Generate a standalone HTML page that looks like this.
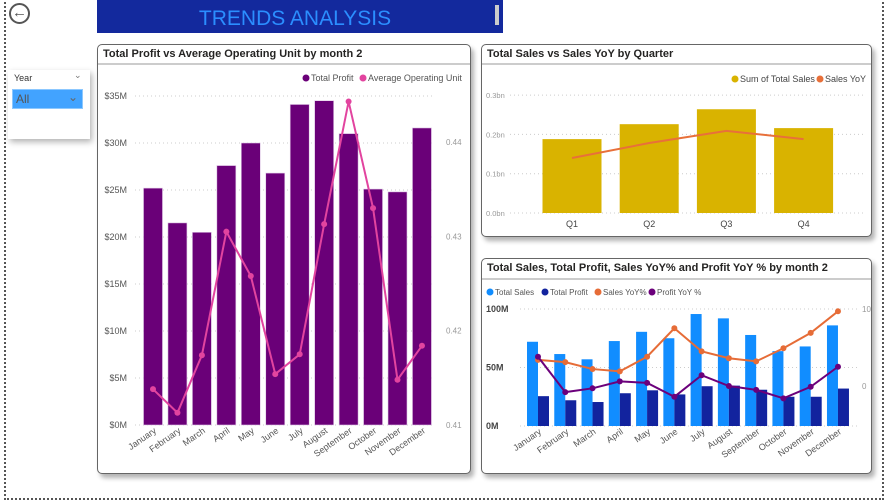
<!DOCTYPE html>
<html><head><meta charset="utf-8"><style>
body{margin:0;width:884px;height:503px;background:#fff;overflow:hidden;font-family:"Liberation Sans","DejaVu Sans",sans-serif;position:relative}
.abs{position:absolute}
.card{position:absolute;background:#fff;border:1.5px solid #666;border-radius:5px;box-shadow:3px 4px 5px rgba(0,0,0,.3);box-sizing:border-box}
.ctitle{position:absolute;left:5px;top:3px;font-size:11px;font-weight:bold;color:#252423;white-space:nowrap}
.cdiv{position:absolute;left:0;right:0;top:18px;border-top:2px solid #ccc}
svg text{font-family:"Liberation Sans","DejaVu Sans",sans-serif}
</style></head><body>
<div class="abs" style="left:4px;top:-2px;width:876px;height:500px;border-left:2px dotted #555;border-right:2px dotted #555;border-bottom:2px dotted #555"></div>
<div class="abs" style="left:9px;top:3px;width:17px;height:17px;border:2px solid #555;border-radius:50%;font-size:15px;line-height:16px;text-align:center;color:#555;font-weight:bold">&#8592;</div>
<div class="abs" style="left:97px;top:0;width:406px;height:33px;background:#13299d;color:#2b8eff;font-size:21px;line-height:37px;text-align:center;padding-right:10px;box-sizing:border-box">TRENDS ANALYSIS</div>
<div class="abs" style="left:495px;top:5px;width:4px;height:20px;background:#ccc"></div>
<div class="abs" style="left:8px;top:70px;width:82px;height:69px;background:#fff;box-shadow:2px 3px 6px rgba(0,0,0,.3)">
<div class="abs" style="left:6px;top:3px;font-size:9px;color:#333">Year</div>
<div class="abs" style="left:66px;top:0;font-size:9px;color:#777">&#8964;</div>
<div class="abs" style="left:4px;top:19px;width:71px;height:20px;background:#42a3ff;border:1px solid #8cc8ff;box-sizing:border-box;font-size:12px;color:#555;line-height:19px;padding-left:3px">All<span style="position:absolute;right:4px;top:-2px;color:#666">&#8964;</span></div>
</div>

<div class="card" style="left:97px;top:44px;width:374px;height:430px">
<div class="ctitle">Total Profit vs Average Operating Unit by month 2</div><div class="cdiv"></div></div>
<div class="card" style="left:481px;top:44px;width:391px;height:193px">
<div class="ctitle">Total Sales vs Sales YoY by Quarter</div><div class="cdiv"></div></div>
<div class="card" style="left:481px;top:258px;width:391px;height:216px">
<div class="ctitle">Total Sales, Total Profit, Sales YoY% and Profit YoY % by month 2</div><div class="cdiv" style="top:19px"></div></div>

<svg id="chart" class="abs" style="left:0;top:0" width="884" height="503"></svg>
<script>
const months=["January","February","March","April","May","June","July","August","September","October","November","December"];
const profitM=[25.2,21.5,20.5,27.6,30.0,26.8,34.1,34.5,31.0,25.1,24.8,31.6];
const avgOpUnit=[0.4138,0.4113,0.4174,0.4305,0.4258,0.4154,0.4175,0.4313,0.4443,0.4330,0.4148,0.4184];
const leftTicks=["$0M","$5M","$10M","$15M","$20M","$25M","$30M","$35M"];
const rightTicks=["0.41","0.42","0.43","0.44"];
const quarters=["Q1","Q2","Q3","Q4"];
const qSales=[0.188,0.226,0.264,0.216];
const qYoY=[0.140,0.178,0.209,0.188];
const qTicks=["0.0bn","0.1bn","0.2bn","0.3bn"];
const mSales=[72,61.5,57,72.6,80.5,75,95.7,92,77.8,64,68,86];
const mProfit=[25.5,22,20.5,28,30.5,27,34,34.5,31,25,25,32];
const mSalesYoY=[3.4,3.1,2.2,1.9,3.8,7.5,4.5,3.6,3.2,4.9,6.9,9.7];
const mProfitYoY=[3.8,-0.8,-0.3,0.6,0.4,-1.4,1.4,0,-0.5,-1.6,-0.1,2.5];
const mTicks=["0M","50M","100M"];
const mRTicks=["0","10"];

const svg=document.getElementById('chart');
const NS='http://www.w3.org/2000/svg';
function el(t,a,txt){const e=document.createElementNS(NS,t);for(const k in a)e.setAttribute(k,a[k]);if(txt!==undefined)e.textContent=txt;svg.appendChild(e);return e;}
function grid(x1,x2,y){el('line',{x1,x2,y1:y,y2:y,stroke:'#ccc','stroke-dasharray':'1 3'});}

// Chart 1
(function(){
 const y0=425,pxM=9.4,x0=153,step=24.45,bw=19;
 const Y=v=>y0-v*pxM, X=i=>x0+i*step;
 const YR=v=>425-(v-0.41)/0.01*94.3;
 leftTicks.forEach((t,i)=>{grid(135,435,Y(i*5));const e=el('text',{x:127,y:Y(i*5)+3,'font-size':9,fill:'#555','text-anchor':'end'},t);});
 rightTicks.forEach((t,i)=>{const e=el('text',{x:446,y:YR(0.41+i*0.01)+3,'font-size':8,fill:'#999'},t);});
 profitM.forEach((v,i)=>{const r=el('rect',{x:X(i)-bw/2,y:Y(v),width:bw,height:y0-Y(v),fill:'#6a0078',stroke:'#e0c8e6','stroke-width':0.6});});
 const pts=avgOpUnit.map((v,i)=>X(i)+','+YR(v)).join(' ');
 const pl=el('polyline',{points:pts,fill:'none',stroke:'#e2449f','stroke-width':2});
 avgOpUnit.forEach((v,i)=>{const c=el('circle',{cx:X(i),cy:YR(v),r:3,fill:'#e2449f'});});
 months.forEach((m,i)=>{const t=el('text',{x:X(i)+4,y:432,'font-size':9,fill:'#555','text-anchor':'end',transform:`rotate(-35 ${X(i)+4} 432)`},m);});
 el('circle',{cx:306,cy:78,r:3.5,fill:'#6a0078'});
 const l1=el('text',{x:311,y:81,'font-size':9,fill:'#555'},'Total Profit');
 el('circle',{cx:363,cy:78,r:3.5,fill:'#e2449f'});
 const l2=el('text',{x:368,y:81,'font-size':9,fill:'#555'},'Average Operating Unit');
})();

// Chart 2
(function(){
 const y0=213,px=393,x0=572,step=77.2,bw=59;
 const Y=v=>y0-v*px,X=i=>x0+i*step;
 qTicks.forEach((t,i)=>{grid(510,865,Y(i*0.1));const e=el('text',{x:486,y:Y(i*0.1)+3,'font-size':7.5,fill:'#999'},t);});
 qSales.forEach((v,i)=>{const r=el('rect',{x:X(i)-bw/2,y:Y(v),width:bw,height:y0-Y(v),fill:'#d9b300'});
  const t=el('text',{x:X(i),y:227,'font-size':9,fill:'#444','text-anchor':'middle'},quarters[i]);});
 const pl=el('polyline',{points:qYoY.map((v,i)=>X(i)+','+Y(v)).join(' '),fill:'none',stroke:'#e8703a','stroke-width':2});
 el('circle',{cx:735,cy:79,r:3.5,fill:'#d9b300'});
 const l1=el('text',{x:740,y:82,'font-size':9,fill:'#444'},'Sum of Total Sales');
 el('circle',{cx:820,cy:79,r:3.5,fill:'#e8703a'});
 const l2=el('text',{x:825,y:82,'font-size':9,fill:'#444'},'Sales YoY');
})();

// Chart 3
(function(){
 const y0=426,pxM=1.17,x0=538,step=27.27,bw=11;
 const Y=v=>y0-v*pxM,X=i=>x0+i*step,YR=v=>386-v*7.7;
 mTicks.forEach((t,i)=>{grid(520,860,Y(i*50));const e=el('text',{x:486,y:Y(i*50)+3,'font-size':9,fill:'#444','font-weight':'bold'},t);});
 mRTicks.forEach((t,i)=>{const e=el('text',{x:862,y:YR(i*10)+3,'font-size':8,fill:'#999'},t);});
 mSales.forEach((v,i)=>{const r=el('rect',{x:X(i)-bw,y:Y(v),width:bw,height:y0-Y(v),fill:'#118dff'});});
 mProfit.forEach((v,i)=>{const r=el('rect',{x:X(i),y:Y(v),width:bw,height:y0-Y(v),fill:'#12239e'});});
 [[mSalesYoY,'#e66c37','sales-yoy'],[mProfitYoY,'#6b007b','profit-yoy']].forEach(([arr,c,n])=>{
  const pl=el('polyline',{points:arr.map((v,i)=>X(i)+','+YR(v)).join(' '),fill:'none',stroke:c,'stroke-width':2});
  arr.forEach((v,i)=>{const p=el('circle',{cx:X(i),cy:YR(v),r:3,fill:c});});
 });
 months.forEach((m,i)=>{const t=el('text',{x:X(i)+4,y:433,'font-size':9,fill:'#555','text-anchor':'end',transform:`rotate(-35 ${X(i)+4} 433)`},m);});
 const lg=[['Total Sales','#118dff',490],['Total Profit','#12239e',545],['Sales YoY%','#e66c37',598],['Profit YoY %','#6b007b',652]];
 lg.forEach(([t,c,x])=>{el('circle',{cx:x,cy:292,r:3.5,fill:c});const e=el('text',{x:x+5,y:295,'font-size':8,fill:'#555'},t);});
})();
</script>
</body></html>
